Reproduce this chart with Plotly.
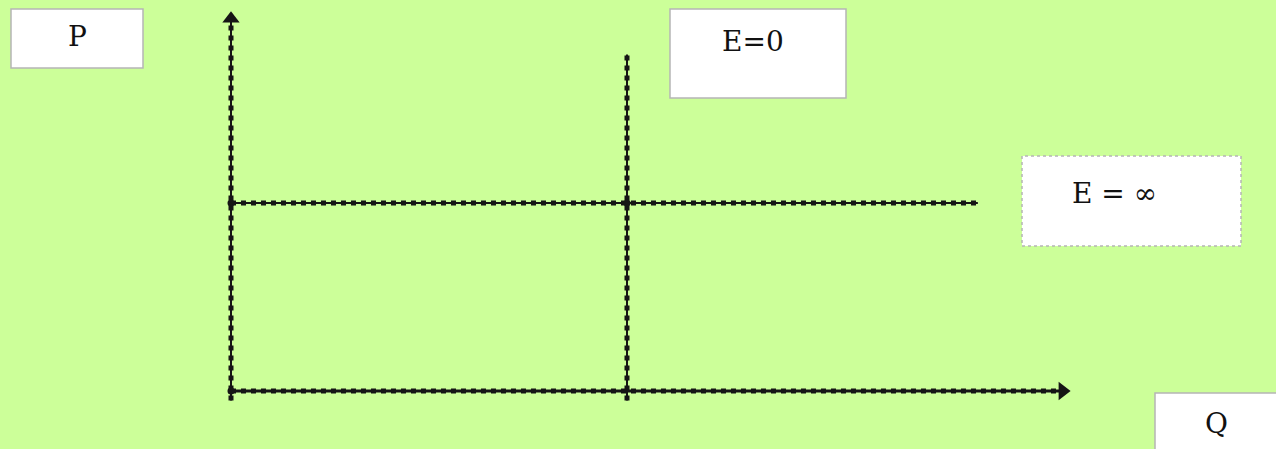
import plotly.graph_objects as go

# ---- data (economic units) ----
q_axis_x = [0, 10.5]
q_axis_y = [0, 0]
p_axis_x = [0, 0]
p_axis_y = [-0.25, 9.9]
inelastic_q = [5, 5]          # E = 0 : vertical
inelastic_p = [-0.25, 8.95]
elastic_q = [0, 9.43]         # E = inf : horizontal
elastic_p = [5, 5]
dots_q = [0, 0, 5]
dots_p = [0, 5, 5]
labels = ["P", "E=0", "E = ∞", "Q"]

W, H = 1276, 449
BG = "#CCFF99"
LINE = "#151515"

fig = go.Figure()

def add_line(xs, ys):
    fig.add_trace(go.Scatter(x=xs, y=ys, mode="lines",
                             line=dict(color=LINE, width=2),
                             hoverinfo="skip", showlegend=False))
    fig.add_trace(go.Scatter(x=xs, y=ys, mode="lines",
                             line=dict(color=LINE, width=5, dash="dot"),
                             hoverinfo="skip", showlegend=False))

add_line(p_axis_x, p_axis_y)
add_line(inelastic_q, inelastic_p)
add_line(elastic_q, elastic_p)
add_line(q_axis_x, q_axis_y)
fig.add_trace(go.Scatter(x=q_axis_x, y=q_axis_y, mode="lines",
                         line=dict(color=LINE, width=3),
                         hoverinfo="skip", showlegend=False))

# arrow heads
fig.add_trace(go.Scatter(x=[p_axis_x[1]], y=[p_axis_y[1]], mode="markers",
                         marker=dict(symbol="triangle-up", size=15, color=LINE),
                         hoverinfo="skip", showlegend=False))
fig.add_trace(go.Scatter(x=[q_axis_x[1]], y=[q_axis_y[1]], mode="markers",
                         marker=dict(symbol="triangle-right", size=16, color=LINE),
                         hoverinfo="skip", showlegend=False))
fig.add_trace(go.Scatter(x=dots_q, y=dots_p, mode="markers",
                         marker=dict(symbol="circle", size=7, color=LINE),
                         hoverinfo="skip", showlegend=False))

def px(x):
    return x / W

def py(y):
    return 1 - y / H

boxes = [
    (11, 9, 143, 68, 77, 36, "solid"),
    (670, 9, 846, 98, 753, 41, "solid"),
    (1022, 156, 1241, 246, 1114, 193, "dot"),
    (1155, 393, 1290, 460, 1216, 423, "solid"),
]
for (x0, y0, x1, y1, tx, ty, dash), txt in zip(boxes, labels):
    fig.add_shape(type="rect", xref="paper", yref="paper",
                  x0=px(x0), x1=px(x1), y0=py(y1), y1=py(y0),
                  fillcolor="white", line=dict(color="#b5b5b5", width=1.5, dash=dash),
                  layer="below")
    fig.add_annotation(xref="paper", yref="paper", x=px(tx), y=py(ty),
                       text=txt, showarrow=False, xanchor="center", yanchor="middle",
                       font=dict(family="DejaVu Serif, serif", size=28, color="#111111"))

kx = 79.2
ky = 37.6
fig.update_layout(
    width=W, height=H,
    margin=dict(l=0, r=0, t=0, b=0),
    paper_bgcolor=BG, plot_bgcolor="rgba(0,0,0,0)",
    xaxis=dict(range=[-231 / kx, (W - 231) / kx], visible=False, fixedrange=True),
    yaxis=dict(range=[-(H - 391) / ky, 391 / ky], visible=False, fixedrange=True),
)

fig.write_html("out.html", config={"displayModeBar": False},
               post_script="document.body.style.margin='0';document.body.style.background='%s';" % BG)
